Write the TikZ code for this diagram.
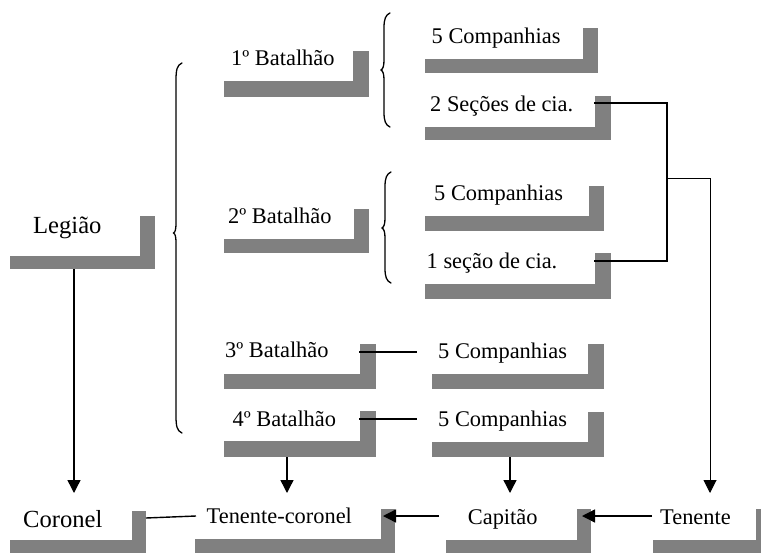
\documentclass[tikz,border=0pt]{standalone}
\usepackage{fontspec}
\setmainfont{Liberation Serif}
\usetikzlibrary{arrows.meta}
\definecolor{shadowgray}{HTML}{808080}
\newcommand\shadowL[6]{%
  \fill[shadowgray] (#1,#4) rectangle (#5,#6);
  \fill[shadowgray] (#3,#2) rectangle (#5,#4);}
\begin{document}
\begin{tikzpicture}[x=1pt,y=-1pt,
  lbl/.style={anchor=base west,inner sep=0pt,font=\fontsize{22.4}{26}\selectfont},
  biglbl/.style={anchor=base west,inner sep=0pt,font=\fontsize{24.6}{29}\selectfont},
  conn/.style={line width=1.4pt},
  thinconn/.style={line width=1pt},
  arr/.style={line width=1.4pt,-{Triangle[length=13pt,width=13pt]}},
  thinarr/.style={line width=1pt,-{Triangle[length=13pt,width=13pt]}},
  bracel/.style={line width=1.3pt,line cap=round}
]
\useasboundingbox (0,0) rectangle (761,552);
\begin{scope}
\clip (0,0) rectangle (761,552);
% shadows
\shadowL{10}{216}{140}{256}{155}{269}   % Legiao
\shadowL{224}{51}{353}{81}{369}{97}     % 1o Bat
\shadowL{425}{28}{583}{59}{598}{73}     % 5C 1
\shadowL{425}{96}{595}{127}{611}{140}   % 2 Secoes
\shadowL{425}{186}{589}{216}{604}{231}  % 5C 2
\shadowL{425}{253}{595}{284}{611}{299}  % 1 secao
\shadowL{224}{209}{354}{239}{369}{253}  % 2o Bat
\shadowL{224}{344}{360}{374}{376}{389}  % 3o Bat
\shadowL{224}{411}{360}{441}{376}{457}  % 4o Bat
\shadowL{432}{344}{588}{374}{604}{389}  % 5C 3
\shadowL{432}{412}{588}{442}{604}{457}  % 5C 4
\shadowL{10}{511}{132}{540}{146}{555}   % Coronel
\shadowL{195}{509}{381}{539}{395}{555}  % Tenente-coronel
\shadowL{446}{509}{577}{540}{591}{555}  % Capitao
\shadowL{653}{509}{756}{540}{771}{555}  % Tenente
\end{scope}

% labels
\node[biglbl] (leg) at (33,233) {Legião};
\node[lbl] (b1) at (231,65) {1º Batalhão};
\node[lbl] (c1) at (431.5,43.3) {5 Companhias};
\node[lbl] (s2) at (430,111) {2 Seções de cia.};
\node[lbl] (c2) at (434,200.7) {5 Companhias};
\node[lbl] (s1) at (426.5,268.3) {1 seção de cia.};
\node[lbl] (b2) at (228,223.3) {2º Batalhão};
\node[lbl] (b3) at (225,357.3) {3º Batalhão};
\node[lbl] (b4) at (232.5,426.7) {4º Batalhão};
\node[lbl] (c3) at (438,358) {5 Companhias};
\node[lbl] (c4) at (438,426) {5 Companhias};
\node[biglbl] (cor) at (23,527.3) {Coronel};
\node[lbl] (tc) at (206.5,523.5) {Tenente-coronel};
\node[lbl] (cap) at (467.7,524) {Capitão};
\node[lbl] (ten) at (660,524) {Tenente};

% connector end points
\coordinate (legS) at (74,269);
\coordinate (corN) at (74,493);
\coordinate (b4S) at (287,457);
\coordinate (tcN) at (287,493);
\coordinate (c4S) at (510,457);
\coordinate (capN) at (510,493);
\coordinate (tenN) at (710,493);
\coordinate (tenW) at (652,516);
\coordinate (capE) at (582,516);
\coordinate (capW) at (439,516);
\coordinate (tcE) at (383,516);
\coordinate (tcW) at (196,516);
\coordinate (corE) at (146,518);
\coordinate (b3E) at (359,352);
\coordinate (c3W) at (417,352);
\coordinate (b4E) at (359,419);
\coordinate (c4W) at (417,419);
\coordinate (s2E) at (594,103);
\coordinate (s1E) at (594,261);
\coordinate (jA) at (667,103);
\coordinate (jB) at (667,261);
\coordinate (jM) at (667,178);
\coordinate (jT) at (710,178);

% connectors
\draw[arr] (legS) -- (corN);
\draw[arr] (b4S) -- (tcN);
\draw[arr] (c4S) -- (capN);
\draw[arr] (tenW) -- (capE);
\draw[arr] (capW) -- (tcE);
\draw[conn] (tcW) -- (corE);
\draw[conn] (b3E) -- (c3W);
\draw[conn] (b4E) -- (c4W);
\draw[conn] (s2E) -- (jA) -- (jB) -- (s1E);
\draw[thinconn] (jM) -- (jT);
\draw[thinarr] (jT) -- (tenN);

% braces
\draw[bracel] (182,63) .. controls (177,65) and (176,70) .. (176,80) -- (176,222)
  .. controls (176,229) and (175.5,232) .. (173.5,233)
  .. controls (175.5,234) and (176,237) .. (176,244) -- (176,416)
  .. controls (176,426) and (177,431) .. (182,433);
\draw[bracel] (390,13) .. controls (385.5,15) and (384,19) .. (384,28) -- (384,60)
  .. controls (384,66) and (383,69) .. (381,70)
  .. controls (383,71) and (384,74) .. (384,80) -- (384,112)
  .. controls (384,121) and (385.5,125) .. (390,127);
\draw[bracel] (391,172) .. controls (386.5,174) and (385,178) .. (385,187) -- (385,218)
  .. controls (385,224) and (384,227) .. (382,228)
  .. controls (384,229) and (385,232) .. (385,238) -- (385,268)
  .. controls (385,277) and (386.5,281) .. (391,283);
\end{tikzpicture}
\end{document}
